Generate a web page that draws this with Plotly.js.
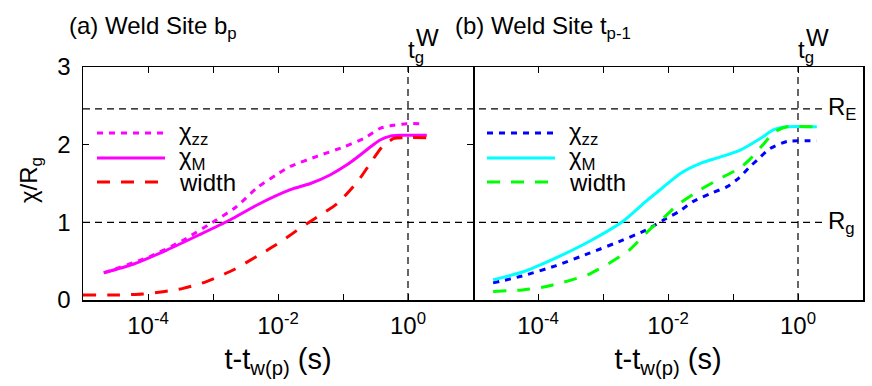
<!DOCTYPE html>
<html>
<head>
<meta charset="utf-8">
<script src="https://cdn.plot.ly/plotly-3.0.1.min.js"></script>
<style>
  body { margin: 0; background: #fff; }
  #chart { width: 872px; height: 386px; }
</style>
</head>
<body>
<div id="chart"></div>
<script>
// panel (a): weld site b_p
const aZzT = [2.09e-5, 1.07e-4, 3.47e-4, 1.12e-3, 2.29e-3, 4.68e-3, 9.33e-3, 1.55e-2, 3.98e-2, 0.102, 0.209, 0.372, 0.603, 0.955, 1.66];
const aZzY = [0.35, 0.56, 0.77, 1.03, 1.20, 1.44, 1.61, 1.72, 1.85, 1.97, 2.08, 2.21, 2.25, 2.27, 2.27];

const aMT = [2.09e-5, 5.89e-5, 1.91e-4, 6.17e-4, 1.82e-3, 4.68e-3, 1.55e-2, 3.16e-2, 6.31e-2, 0.115, 0.186, 0.263, 0.372, 0.537, 0.759, 1.95];
const aMY = [0.35, 0.46, 0.64, 0.84, 1.03, 1.22, 1.42, 1.50, 1.61, 1.74, 1.87, 1.97, 2.06, 2.11, 2.12, 2.12];

const aWT = [1.0e-5, 3.24e-5, 8.32e-5, 1.70e-4, 3.47e-4, 7.94e-4, 2.04e-3, 4.68e-3, 9.33e-3, 1.91e-2, 3.55e-2, 8.13e-2, 0.166, 0.263, 0.398, 0.603, 0.851, 1.95];
const aWY = [0.064, 0.064, 0.077, 0.107, 0.15, 0.236, 0.386, 0.56, 0.71, 0.89, 1.04, 1.24, 1.52, 1.76, 1.97, 2.08, 2.09, 2.09];

// panel (b): weld site t_(p-1)
const bZzT = [2.04e-5, 5.75e-5, 1.86e-4, 6.03e-4, 2.00e-3, 4.57e-3, 8.51e-3, 1.48e-2, 2.45e-2, 4.47e-2, 8.13e-2, 0.123, 0.174, 0.234, 0.372, 0.676, 1.95];
const bZzY = [0.22, 0.31, 0.44, 0.60, 0.77, 0.90, 1.03, 1.14, 1.27, 1.37, 1.46, 1.57, 1.70, 1.80, 1.95, 2.04, 2.05];

const bMT = [2.04e-5, 5.75e-5, 1.86e-4, 6.03e-4, 2.00e-3, 4.57e-3, 7.59e-3, 1.55e-2, 3.16e-2, 6.31e-2, 0.129, 0.263, 0.417, 0.676, 1.95];
const bMY = [0.26, 0.36, 0.54, 0.75, 1.01, 1.27, 1.42, 1.63, 1.76, 1.84, 1.93, 2.08, 2.19, 2.23, 2.23];

const bWT = [2.04e-5, 5.75e-5, 1.29e-4, 3.02e-4, 6.03e-4, 1.23e-3, 2.51e-3, 5.13e-3, 9.12e-3, 1.38e-2, 3.16e-2, 7.24e-2, 0.129, 0.186, 0.282, 0.447, 0.676, 1.95];
const bWY = [0.11, 0.13, 0.17, 0.25, 0.33, 0.47, 0.64, 0.90, 1.08, 1.22, 1.42, 1.59, 1.70, 1.82, 1.99, 2.17, 2.23, 2.23];

const tickVals = [1e-4, 1e-3, 1e-2, 1e-1, 1e0];
const tickText = ["10<sup>-4</sup>", "", "10<sup>-2</sup>", "", "10<sup>0</sup>"];
const yTicks = [0, 1, 2, 3];
const rE = 2.46;
const rG = 1;
const tgW = 1;

const legendNames = ["χ<sub>zz</sub>", "χ<sub>M</sub>", "width"];
const aColors = ["#ff00ff", "#ff00ff", "#ff0000"];
const bColors = ["#0000ff", "#00ffff", "#00ff00"];
const dashes = ["6px,6px", "solid", "13px,11px"];

const FONT = "Liberation Sans, Arial, sans-serif";

function line(x, y, color, dash, xa, ya) {
  return {
    x: x, y: y, xaxis: xa, yaxis: ya,
    mode: "lines", type: "scatter",
    line: { color: color, width: 3, dash: dash, shape: "spline", smoothing: 0.6 },
    showlegend: false, hoverinfo: "x+y"
  };
}

const data = [
  line(aZzT, aZzY, aColors[0], dashes[0], "x", "y"),
  line(aMT, aMY, aColors[1], dashes[1], "x", "y"),
  line(aWT, aWY, aColors[2], dashes[2], "x", "y"),
  line(bZzT, bZzY, bColors[0], dashes[0], "x2", "y2"),
  line(bMT, bMY, bColors[1], dashes[1], "x2", "y2"),
  line(bWT, bWY, bColors[2], dashes[2], "x2", "y2")
];

// pixel helpers for paper coords (plot area 83..863 x 67..300)
const px = p => (p - 83) / 780;
const py = p => (300 - p) / 233;

const refLine = { color: "#000", width: 1.2, dash: "7px,5px" };
const shapes = [
  { type: "line", xref: "paper", yref: "y", x0: 0, x1: px(826), y0: rE, y1: rE, line: refLine, layer: "below" },
  { type: "line", xref: "paper", yref: "y", x0: 0, x1: px(826), y0: rG, y1: rG, line: refLine, layer: "below" },
  { type: "line", xref: "x", yref: "y", x0: tgW, x1: tgW, y0: 0, y1: 3, line: refLine, layer: "below" },
  { type: "line", xref: "x2", yref: "y2", x0: tgW, x1: tgW, y0: 0, y1: 3, line: refLine, layer: "below" }
];

const annotations = [
  { text: "(a) Weld Site b<sub>p</sub>", xref: "paper", yref: "paper", x: px(67), y: py(27), xanchor: "left", yanchor: "middle", showarrow: false },
  { text: "(b) Weld Site t<sub>p-1</sub>", xref: "paper", yref: "paper", x: px(453), y: py(27), xanchor: "left", yanchor: "middle", showarrow: false },
  { text: "t<sub>g</sub>", xref: "x", yref: "paper", x: 0, y: py(69), xanchor: "left", yanchor: "bottom", xshift: -2, showarrow: false },
  { text: "W", xref: "x", yref: "paper", x: 0, y: py(37), xanchor: "left", yanchor: "middle", xshift: 6, showarrow: false },
  { text: "t<sub>g</sub>", xref: "x2", yref: "paper", x: 0, y: py(69), xanchor: "left", yanchor: "bottom", xshift: -2, showarrow: false },
  { text: "W", xref: "x2", yref: "paper", x: 0, y: py(37), xanchor: "left", yanchor: "middle", xshift: 6, showarrow: false },
  { text: "R<sub>E</sub>", xref: "paper", yref: "y", x: px(826), y: rE, xanchor: "left", yanchor: "middle", showarrow: false },
  { text: "R<sub>g</sub>", xref: "paper", yref: "y", x: px(826), y: rG, xanchor: "left", yanchor: "middle", showarrow: false },
  { text: "χ/R<sub>g</sub>", xref: "paper", yref: "paper", x: px(30), y: py(180), textangle: -90, xanchor: "center", yanchor: "middle", showarrow: false }
];

// hand-drawn legends with long line samples
const legendRows = [133, 158, 182];
function addLegend(x0, x1, tx, colors) {
  legendRows.forEach((ry, i) => {
    shapes.push({
      type: "line", xref: "paper", yref: "paper", x0: px(x0), x1: px(x1), y0: py(ry), y1: py(ry),
      line: { color: colors[i], width: 3, dash: dashes[i] }
    });
    annotations.push({
      text: legendNames[i], xref: "paper", yref: "paper", x: px(tx), y: py(ry),
      xanchor: "left", yanchor: "middle", showarrow: false
    });
  });
}
addLegend(97, 165, 177, aColors);
addLegend(487, 555, 567, bColors);

const xBase = {
  type: "log", range: [-5, 1], tickvals: tickVals, ticktext: tickText,
  ticks: "inside", ticklen: 6, tickcolor: "#000", tickwidth: 1,
  showline: true, linecolor: "#000", linewidth: 1.5, mirror: "ticks",
  showgrid: false, zeroline: false, ticklabelstandoff: 4,
  title: { text: "t-t<sub>w(p)</sub> (s)", standoff: 10 }
};

const layout = {
  width: 872, height: 386,
  margin: { l: 83, r: 9, t: 67, b: 86 },
  paper_bgcolor: "#fff", plot_bgcolor: "#fff",
  font: { family: FONT, size: 24, color: "#000" },
  showlegend: false,
  xaxis: Object.assign({}, xBase, { domain: [0, 0.5], anchor: "y" }),
  xaxis2: Object.assign({}, xBase, { domain: [0.5, 1], anchor: "y2" }),
  yaxis: {
    range: [0, 3], tickvals: yTicks, ticks: "inside", ticklen: 6, tickcolor: "#000",
    showline: true, linecolor: "#000", linewidth: 1.5, mirror: "ticks",
    showgrid: false, zeroline: false, anchor: "x", ticklabelstandoff: 6
  },
  yaxis2: {
    range: [0, 3], showticklabels: false, ticks: "", side: "right",
    showline: true, linecolor: "#000", linewidth: 1.5, mirror: false,
    showgrid: false, zeroline: false, anchor: "x2"
  },
  shapes: shapes,
  annotations: annotations
};

Plotly.newPlot("chart", data, layout, { displayModeBar: false, staticPlot: true });
</script>
</body>
</html>
